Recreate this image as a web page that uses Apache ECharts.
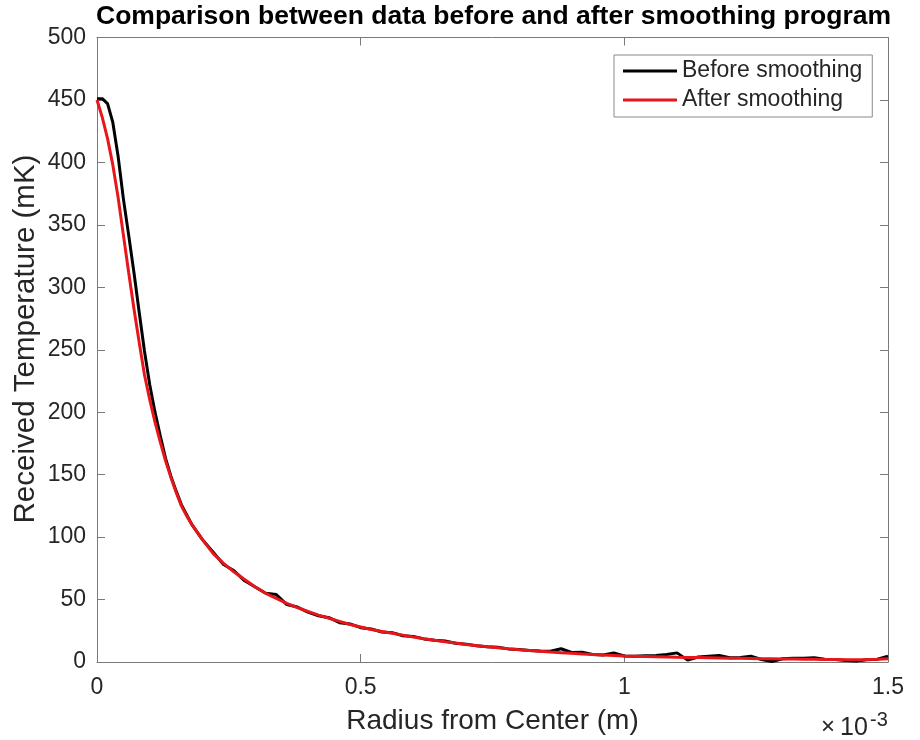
<!DOCTYPE html>
<html>
<head>
<meta charset="utf-8">
<script src="https://cdn.jsdelivr.net/npm/echarts@6/dist/echarts.min.js"></script>
<style>
  html, body { margin: 0; padding: 0; background: #fff; }
  #chart { width: 920px; height: 740px; }
</style>
</head>
<body>
<div id="chart"></div>
<script>
// Radius from center, in units of 1e-3 m
const radius = [
  0, 0.01, 0.02, 0.03, 0.04, 0.05, 0.06, 0.07, 0.08, 0.09, 0.10,
  0.11, 0.12, 0.13, 0.14, 0.15, 0.16, 0.17, 0.18, 0.19, 0.20,
  0.22, 0.24, 0.26, 0.28, 0.30, 0.32, 0.34, 0.36, 0.38, 0.40,
  0.42, 0.44, 0.46, 0.48, 0.50, 0.52, 0.54, 0.56, 0.58, 0.60,
  0.62, 0.64, 0.66, 0.68, 0.70, 0.72, 0.74, 0.76, 0.78, 0.80,
  0.82, 0.84, 0.86, 0.88, 0.90, 0.92, 0.94, 0.96, 0.98, 1.00,
  1.02, 1.04, 1.06, 1.08, 1.10, 1.12, 1.14, 1.16, 1.18, 1.20,
  1.22, 1.24, 1.26, 1.28, 1.30, 1.32, 1.34, 1.36, 1.38, 1.40,
  1.42, 1.44, 1.46, 1.48, 1.50
];

// Received temperature (mK), raw measurement
const beforeSmoothing = [
  451, 451, 447, 432, 405, 371, 342, 312, 280, 249, 222,
  200, 181, 163, 149, 137, 126, 118, 110, 104, 98,
  88, 78, 73, 65, 60, 55, 54, 46, 44, 40,
  37, 35.5, 31.5, 30.5, 27.5, 26.5, 24, 23.5, 21, 20.5,
  18.5, 17.5, 16.8, 15, 14.3, 13, 12.3, 11.8, 10.5, 10,
  9.2, 8.8, 8.6, 10.6, 7.6, 7.8, 6.0, 5.6, 7.3, 4.8,
  4.6, 5.0, 5.2, 6.0, 7.3, 1.5, 4.0, 4.6, 5.2, 3.4,
  3.6, 4.6, 2.0, 0.3, 2.6, 3.0, 3.0, 3.4, 2.2, 2.0,
  1.2, 0.8, 1.8, 2.2, 4.6
];

// Received temperature (mK), after the smoothing program
const afterSmoothing = [
  450, 436, 419, 398, 372, 342, 312, 283, 256, 230, 210,
  192, 176, 161, 148, 136, 125, 117, 110, 104, 98,
  87, 79, 72, 66, 60, 55, 51, 47, 43.5, 40.5,
  37.5, 35, 32.5, 30, 28, 26, 24.5, 23, 21.5, 20,
  18.7, 17.5, 16.3, 15.2, 14, 13.1, 12.2, 11.4, 10.6, 9.9,
  9.2, 8.6, 8.0, 7.5, 7.0, 6.5, 6.0, 5.6, 5.2, 4.8,
  4.6, 4.4, 4.2, 4.0, 3.8, 3.7, 3.6, 3.5, 3.3, 3.1,
  3.0, 2.9, 2.7, 2.6, 2.5, 2.4, 2.3, 2.2, 2.1, 2.0,
  1.9, 1.9, 2.0, 2.2, 2.6
];

const xTicks = [0, 0.5, 1, 1.5];
const yTicks = [0, 50, 100, 150, 200, 250, 300, 350, 400, 450, 500];

const FONT = '"Liberation Sans", Arial, Helvetica, sans-serif';
const AXIS_GRAY = '#7a7a7a';
const TEXT_DARK = '#262626';

const zip = (xs, ys) => xs.map((x, i) => [x, ys[i]]);

const chart = echarts.init(document.getElementById('chart'), null, { renderer: 'canvas' });

const boxAxis = {
  axisLine: { show: true, onZero: false, lineStyle: { color: AXIS_GRAY, width: 1 } },
  axisTick: { show: true, inside: true, length: 8, lineStyle: { color: AXIS_GRAY, width: 1 } },
  splitLine: { show: false }
};

chart.setOption({
  animation: false,
  backgroundColor: '#ffffff',
  textStyle: { fontFamily: FONT },
  grid: { left: 97, right: 32, top: 37.5, bottom: 77.5, containLabel: false },
  legend: {
    data: ['Before smoothing', 'After smoothing'],
    orient: 'vertical',
    left: 614,
    top: 55,
    icon: 'rect',
    itemWidth: 54,
    itemHeight: 3,
    itemGap: 3,
    padding: [3, 10, 4, 9],
    borderColor: '#8a8a8a',
    borderWidth: 1,
    backgroundColor: '#ffffff',
    textStyle: { fontFamily: FONT, fontSize: 23, color: TEXT_DARK, lineHeight: 26 }
  },
  xAxis: [
    Object.assign({
      type: 'value',
      min: xTicks[0],
      max: xTicks[xTicks.length - 1],
      interval: xTicks[1] - xTicks[0],
      position: 'bottom',
      name: 'Radius from Center (m)',
      nameLocation: 'middle',
      nameGap: 45,
      nameTextStyle: { fontFamily: FONT, fontSize: 28, color: TEXT_DARK },
      axisLabel: { fontFamily: FONT, fontSize: 23, color: TEXT_DARK, margin: 14 }
    }, boxAxis),
    Object.assign({
      type: 'value',
      min: xTicks[0],
      max: xTicks[xTicks.length - 1],
      interval: xTicks[1] - xTicks[0],
      position: 'top',
      axisLabel: { show: false }
    }, boxAxis)
  ],
  yAxis: [
    Object.assign({
      type: 'value',
      min: yTicks[0],
      max: yTicks[yTicks.length - 1],
      interval: yTicks[1] - yTicks[0],
      position: 'left',
      axisLabel: { fontFamily: FONT, fontSize: 23, color: TEXT_DARK, margin: 11 }
    }, boxAxis),
    Object.assign({
      type: 'value',
      min: yTicks[0],
      max: yTicks[yTicks.length - 1],
      interval: yTicks[1] - yTicks[0],
      position: 'right',
      axisLabel: { show: false }
    }, boxAxis)
  ],
  series: [
    {
      name: 'Before smoothing',
      type: 'line',
      data: zip(radius, beforeSmoothing),
      showSymbol: false,
      symbol: 'none',
      color: '#000000',
      lineStyle: { color: '#000000', width: 3 },
      z: 2
    },
    {
      name: 'After smoothing',
      type: 'line',
      data: zip(radius, afterSmoothing),
      showSymbol: false,
      symbol: 'none',
      color: '#e8161b',
      lineStyle: { color: '#e8161b', width: 3 },
      z: 3
    }
  ],
  graphic: [
    {
      type: 'text',
      left: 96,
      top: 3,
      style: {
        text: 'Comparison between data before and after smoothing program',
        font: 'bold 26.5px ' + FONT,
        fill: '#000000'
      }
    },
    // vertical axis title
    {
      type: 'text',
      x: 26,
      y: 339,
      rotation: Math.PI / 2,
      style: {
        x: 0,
        y: 0,
        text: 'Received Temperature (mK)',
        font: '29.5px ' + FONT,
        fill: TEXT_DARK,
        align: 'center',
        verticalAlign: 'middle'
      }
    },
    // axis exponent: ×10^-3
    {
      type: 'text',
      left: 821,
      top: 715,
      style: { text: '×', font: '24px ' + FONT, fill: TEXT_DARK }
    },
    {
      type: 'text',
      left: 840,
      top: 716,
      style: { text: '10', font: '25px ' + FONT, fill: TEXT_DARK }
    },
    {
      type: 'text',
      left: 870,
      top: 710,
      style: { text: '-3', font: '20px ' + FONT, fill: TEXT_DARK }
    }
  ]
});
</script>
</body>
</html>
